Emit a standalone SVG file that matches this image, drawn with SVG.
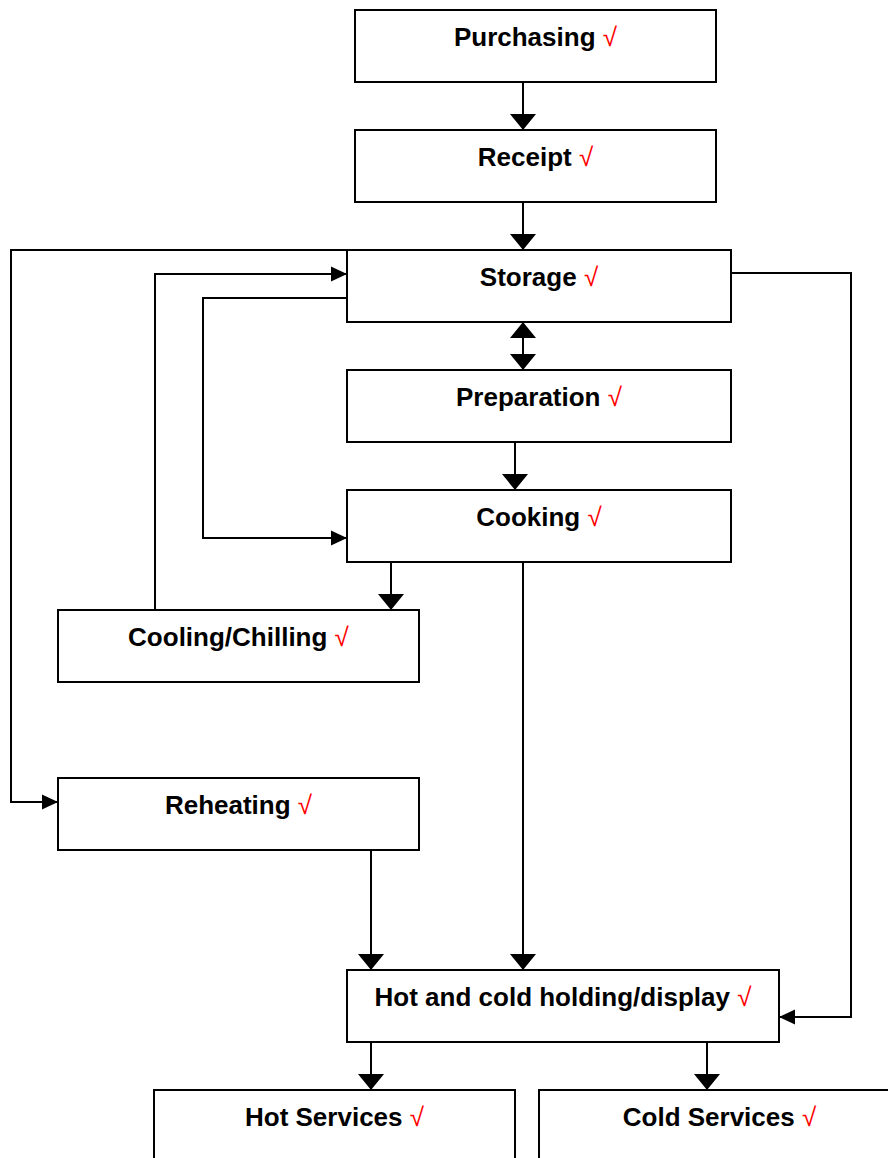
<svg xmlns="http://www.w3.org/2000/svg" width="888" height="1158" viewBox="0 0 888 1158">
<style>
.box{fill:#fff;stroke:#000;stroke-width:2}
.lbl{font-family:"Liberation Sans",Arial,sans-serif;font-weight:bold;font-size:26px;fill:#000;text-anchor:middle}
.chk{font-weight:normal;fill:#ff0000}
.ln{fill:none;stroke:#000;stroke-width:2}
.v{marker-end:url(#av)}
.h{marker-end:url(#ah)}
</style>
<defs>
<marker id="av" markerUnits="userSpaceOnUse" markerWidth="16" markerHeight="26" viewBox="0 0 16 26" refX="16" refY="13" orient="auto-start-reverse"><path d="M0,0 L16,13 L0,26 z" fill="#000"/></marker>
<marker id="ah" markerUnits="userSpaceOnUse" markerWidth="16" markerHeight="16" viewBox="0 0 16 16" refX="16" refY="8" orient="auto"><path d="M0,0.5 L16,8 L0,15.5 z" fill="#000"/></marker>
</defs>
<g id="connectors">
<line class="ln v" x1="523" y1="82" x2="523" y2="130"/>
<line class="ln v" x1="523" y1="202" x2="523" y2="250"/>
<line class="ln v" x1="523" y1="322" x2="523" y2="370" style="marker-start:url(#av)"/>
<line class="ln v" x1="515" y1="442" x2="515" y2="490"/>
<line class="ln v" x1="391" y1="562" x2="391" y2="610"/>
<line class="ln v" x1="523" y1="562" x2="523" y2="970"/>
<line class="ln v" x1="371" y1="850" x2="371" y2="970"/>
<line class="ln v" x1="371" y1="1042" x2="371" y2="1090"/>
<line class="ln v" x1="707" y1="1042" x2="707" y2="1090"/>
<polyline class="ln h" points="731,273 851,273 851,1017 779,1017"/>
<polyline class="ln h" points="347,250 11,250 11,802 58,802"/>
<polyline class="ln h" points="155,610 155,274 347,274"/>
<polyline class="ln h" points="347,298 203,298 203,538 347,538"/>
</g>
<g id="purchasing"><rect class="box" x="355" y="10" width="361" height="72"/><text class="lbl" x="535.5" y="46">Purchasing <tspan class="chk">√</tspan></text></g>
<g id="receipt"><rect class="box" x="355" y="130" width="361" height="72"/><text class="lbl" x="535.5" y="166">Receipt <tspan class="chk">√</tspan></text></g>
<g id="storage"><rect class="box" x="347" y="250" width="384" height="72"/><text class="lbl" x="539" y="286">Storage <tspan class="chk">√</tspan></text></g>
<g id="preparation"><rect class="box" x="347" y="370" width="384" height="72"/><text class="lbl" x="539" y="406">Preparation <tspan class="chk">√</tspan></text></g>
<g id="cooking"><rect class="box" x="347" y="490" width="384" height="72"/><text class="lbl" x="539" y="526">Cooking <tspan class="chk">√</tspan></text></g>
<g id="cooling"><rect class="box" x="58" y="610" width="361" height="72"/><text class="lbl" x="238.5" y="646">Cooling/Chilling <tspan class="chk">√</tspan></text></g>
<g id="reheating"><rect class="box" x="58" y="778" width="361" height="72"/><text class="lbl" x="238.5" y="814">Reheating <tspan class="chk">√</tspan></text></g>
<g id="holding"><rect class="box" x="347" y="970" width="432" height="72"/><text class="lbl" x="563" y="1006">Hot and cold holding/display <tspan class="chk">√</tspan></text></g>
<g id="hot-services"><rect class="box" x="154" y="1090" width="361" height="72"/><text class="lbl" x="334.5" y="1126">Hot Services <tspan class="chk">√</tspan></text></g>
<g id="cold-services"><rect class="box" x="539" y="1090" width="361" height="72"/><text class="lbl" x="719.5" y="1126">Cold Services <tspan class="chk">√</tspan></text></g>
</svg>
